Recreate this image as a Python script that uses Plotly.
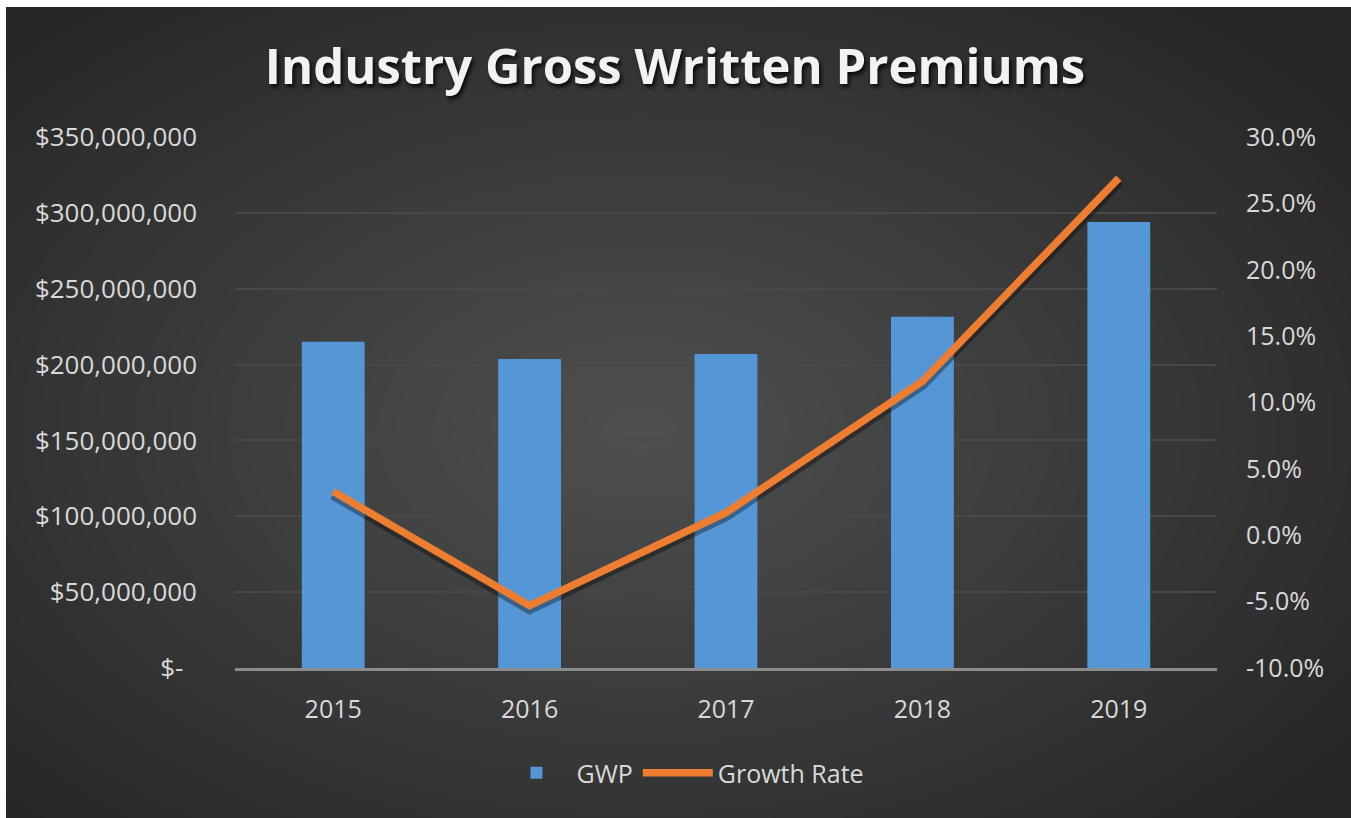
import plotly.graph_objects as go

years = ["2015", "2016", "2017", "2018", "2019"]
gwp = [215_000_000, 203_700_000, 207_000_000, 231_500_000, 294_000_000]
growth = [3.3, -5.3, 1.7, 11.6, 26.9]

left_vals = [0, 50e6, 100e6, 150e6, 200e6, 250e6, 300e6, 350e6]
left_text = ["$-\u00a0\u00a0", "$50,000,000", "$100,000,000", "$150,000,000",
             "$200,000,000", "$250,000,000", "$300,000,000", "$350,000,000"]
right_vals = [-10, -5, 0, 5, 10, 15, 20, 25, 30]
right_text = ["-10.0%", "-5.0%", "0.0%", "5.0%", "10.0%", "15.0%", "20.0%", "25.0%", "30.0%"]

TC = "#d9d9d9"
GRID = "#484848"
FONT = "Open Sans"

FW, FH = 1351, 818

# plot area in pixels: x 235..1217, y 137..668
L, R, T, B = 235, 1217, 137, 668
W, H = R - L, B - T


def px(x):
    return (x - L) / W


def py(y):
    return (B - y) / H


# the growth line's drop shadow sits a few px lower
SH = 3
d = SH * 40 / H

fig = go.Figure()

fig.add_trace(go.Bar(
    x=years, y=gwp, name="GWP",
    marker=dict(color="#5597d6", line=dict(width=0)),
    yaxis="y",
))

fig.add_trace(go.Scatter(
    x=years, y=growth, showlegend=False, hoverinfo="skip",
    mode="lines",
    line=dict(color="rgba(0,0,0,0.35)", width=11),
    yaxis="y2",
))

fig.add_trace(go.Scatter(
    x=years, y=growth, name="Growth Rate",
    mode="lines",
    line=dict(color="#ED7D31", width=7.5),
    yaxis="y3",
))

# radial gradient approximated with stacked ellipses
shapes = []
cx, cy = 640, 430
rx, ry = 900, 560
edge = (38, 38, 38)
center = (78, 79, 79)
n = 48
for i in range(n):
    t = 1 - i / n
    f = i / (n - 1)
    c = tuple(round(edge[k] + (center[k] - edge[k]) * f) for k in range(3))
    shapes.append(dict(
        type="circle", xref="paper", yref="paper", layer="below",
        x0=px(cx - rx * t), x1=px(cx + rx * t),
        y0=py(cy + ry * t), y1=py(cy - ry * t),
        fillcolor="rgb(%d,%d,%d)" % c, line_width=0,
    ))

# white strips on top and left
shapes.append(dict(type="rect", xref="paper", yref="paper", layer="below",
                   x0=px(-10), x1=px(1400), y0=py(7), y1=py(-10),
                   fillcolor="white", line_width=0))
shapes.append(dict(type="rect", xref="paper", yref="paper", layer="below",
                   x0=px(-10), x1=px(6), y0=py(900), y1=py(-10),
                   fillcolor="white", line_width=0))

fig.update_layout(
    shapes=shapes,
    title=dict(
        text="<b>Industry Gross Written Premiums</b>",
        x=675 / FW, xref="container", xanchor="center",
        y=1 - 67 / FH, yref="container", yanchor="middle",
        font=dict(family=FONT, size=49, color="#f2f2f2",
                  shadow="2px 3px 4px rgba(0,0,0,0.85)"),
    ),
    xaxis=dict(
        showgrid=False, showline=True, linecolor="#8c8c8c", linewidth=3,
        ticks="", tickfont=dict(family=FONT, size=25, color=TC),
        ticklabelstandoff=17, zeroline=False,
    ),
    yaxis=dict(
        range=[0, 350e6], tickvals=left_vals, ticktext=left_text,
        showgrid=True, gridcolor=GRID, gridwidth=1.5, zeroline=False,
        ticks="", tickfont=dict(family=FONT, size=26, color=TC),
        ticklabelstandoff=37,
    ),
    yaxis2=dict(
        range=[-10 + d, 30 + d], overlaying="y", visible=False,
    ),
    yaxis3=dict(
        range=[-10, 30], tickvals=right_vals, ticktext=right_text,
        overlaying="y", side="right", showgrid=False, zeroline=False,
        ticks="", tickfont=dict(family=FONT, size=25, color=TC),
        ticklabelstandoff=28,
    ),
    bargap=0.68,
    legend=dict(
        orientation="h", x=px(683), xanchor="center",
        y=py(773), yanchor="middle", itemwidth=70,
        font=dict(family=FONT, size=25, color=TC),
        bgcolor="rgba(0,0,0,0)",
    ),
    plot_bgcolor="rgba(0,0,0,0)",
    paper_bgcolor="#262626",
    width=FW, height=FH,
    margin=dict(l=L, r=FW - R, t=T, b=FH - B),
)

# drop the page's default body margin so the figure fills the window
fig.write_html("out.html", config={"displayModeBar": False},
               post_script="document.body.style.margin='0';")
